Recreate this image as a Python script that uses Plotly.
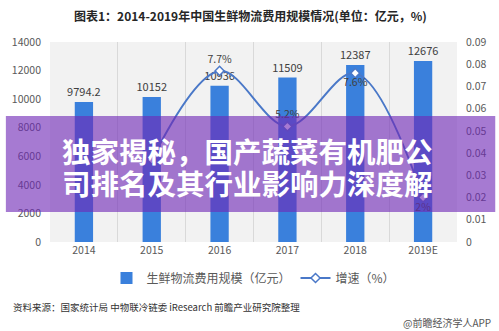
import plotly.graph_objects as go

# 2014-2019E fresh-food logistics cost scale (100M CNY) and growth rate
years = ["2014", "2015", "2016", "2017", "2018", "2019E"]
scale = [9794.2, 10152, 10936, 11509, 12387, 12676]
growth = [None, 0.037, 0.077, 0.052, 0.076, 0.02]
growth_labels = ["", "", "7.7%", "5.2%", "7.6%", "2%"]
growth_label_pos = ["top center", "top center", "top center", "top center",
                    "bottom center", "bottom center"]

W, H = 499, 331
L, R, T, B = 45, 39, 42, 89
PW, PH = W - L - R, H - T - B


def px_x(x):
    return (x - L) / PW


def px_y(y):
    return (H - B - y) / PH


CJK = "Noto Sans CJK SC"
BLUE = "#3a80dc"
LINE = "#4a78c8"

fig = go.Figure()

fig.add_trace(go.Bar(
    x=years, y=scale, name="生鲜物流费用规模（亿元）",
    marker=dict(color=BLUE, line=dict(width=0)),
    width=0.27,
    text=[f"{v:g}" for v in scale], textposition="outside",
    constraintext="none",
    textfont=dict(size=11, color="#404040", family=CJK),
    cliponaxis=False,
))

fig.add_trace(go.Scatter(
    x=years, y=growth, name="增速（%）", yaxis="y2",
    mode="lines+markers+text",
    line=dict(color=LINE, width=2, shape="spline", smoothing=1),
    marker=dict(symbol="diamond", size=7, color="white",
                line=dict(color=LINE, width=1.5)),
    text=growth_labels, textposition=growth_label_pos,
    textfont=dict(size=10.5, color="#404040", family=CJK),
    connectgaps=False, cliponaxis=False,
))

fig.update_layout(
    width=W, height=H,
    margin=dict(l=L, r=R, t=T, b=B),
    paper_bgcolor="white",
    plot_bgcolor="#f2f2f2",
    font=dict(family=CJK, size=10, color="#595959"),
    bargap=0.73,
    xaxis=dict(
        type="category", tickson="boundaries", showgrid=True,
        gridcolor="#d9d9d9", gridwidth=1, ticks="", showline=False,
        zeroline=False, tickfont=dict(size=10.5, color="#595959"),
    ),
    yaxis=dict(
        range=[0, 14000], dtick=2000, tickformat="d", showgrid=False,
        zeroline=False, showline=False, ticklabelstandoff=8,
        tickfont=dict(size=10.5, color="#595959"),
    ),
    yaxis2=dict(
        range=[0, 0.09], dtick=0.01, overlaying="y", side="right",
        showgrid=False, zeroline=False, showline=False,
        ticklabelstandoff=8, tickfont=dict(size=10.5, color="#595959"),
    ),
    legend=dict(
        orientation="h", x=0.5, xanchor="center",
        y=px_y(278), yanchor="middle",
        font=dict(size=12, color="#595959", family=CJK),
        itemwidth=30, bgcolor="rgba(0,0,0,0)",
    ),
    showlegend=True,
)

# translucent purple banner across the middle of the chart
fig.add_shape(
    type="rect", xref="paper", yref="paper",
    x0=px_x(0), x1=px_x(W), y0=px_y(212), y1=px_y(116),
    fillcolor="rgba(112,40,182,0.62)", line=dict(width=0), layer="above",
)

annotations = [
    dict(text="<b>图表1：2014-2019年中国生鲜物流费用规模情况(单位：亿元，%)</b>",
         x=px_x(249), y=px_y(15), xanchor="center", yanchor="middle",
         font=dict(size=12, color="#262626", family=CJK)),
    dict(text="<b>独家揭秘，国产蔬菜有机肥公</b>",
         x=px_x(55), y=px_y(150), xanchor="left", yanchor="middle",
         font=dict(size=28.5, color="white", family=CJK)),
    dict(text="<b>司排名及其行业影响力深度解</b>",
         x=px_x(55), y=px_y(182), xanchor="left", yanchor="middle",
         font=dict(size=28.5, color="white", family=CJK)),
    dict(text="资料来源：国家统计局 中物联冷链委 iResearch 前瞻产业研究院整理",
         x=px_x(5), y=px_y(307), xanchor="left", yanchor="middle",
         font=dict(size=9.5, color="#333333", family=CJK)),
    dict(text="@前瞻经济学人APP",
         x=px_x(497), y=px_y(322), xanchor="right", yanchor="middle",
         font=dict(size=10, color="#555555", family=CJK)),
]
for a in annotations:
    fig.add_annotation(xref="paper", yref="paper", showarrow=False, **a)

fig.write_html("out.html")
